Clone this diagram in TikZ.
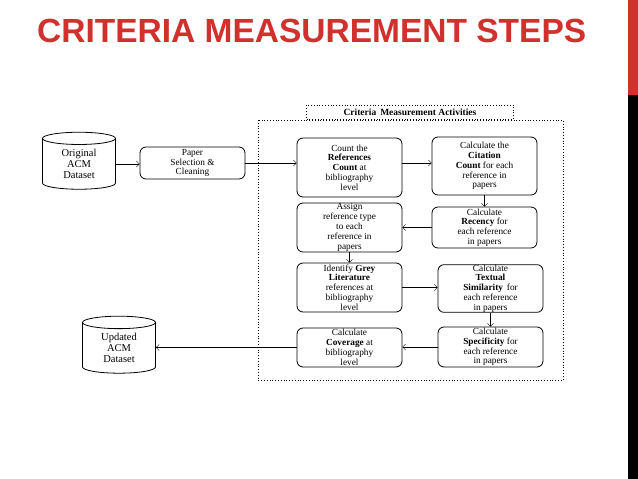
\documentclass[tikz,border=0pt]{standalone}
\usepackage{fontspec}
\setmainfont{Liberation Serif}
\newfontfamily\titlefont{Liberation Sans}
\usetikzlibrary{shapes.geometric,arrows.meta}
\definecolor{tred}{HTML}{D0312D}
\tikzset{
  x=1pt,y=-1pt,
  box/.style={draw,thick,rounded corners=6pt,align=center,font=\fontsize{9.3}{9.8}\selectfont,inner sep=0pt},
  db/.style={draw,thick,cylinder,shape border rotate=90,aspect=0.35,align=center,font=\fontsize{10.5}{11}\selectfont,inner sep=0pt},
  arr/.style={-{Straight Barb[length=3pt,width=6pt]}}
}
\newcommand{\bx}[5]{\node[box,minimum width=#3-#2,minimum height=#5-#4] (#1) at ({(#2+#3)/2},{(#4+#5)/2})}
\begin{document}
\begin{tikzpicture}
\useasboundingbox (0,0) rectangle (638,479);
\fill[tred] (628,0) rectangle (638,95);
\fill[black] (628,95) rectangle (638,479);
\node[text=tred,font=\titlefont\bfseries\fontsize{33.5}{36}\selectfont,anchor=west,inner sep=0] (title) at (37,31) {CRITERIA MEASUREMENT STEPS};
\draw[thick,dotted] (258,120) rectangle (563,380);
\node[draw,thick,dotted,fill=white,minimum width=207,minimum height=14,inner sep=0,font=\bfseries\fontsize{9.5}{10}\selectfont] (lab) at (410,112) {Criteria\, Measurement Activities};
\node[db,minimum width=73,minimum height=57] (orig) at (79,164) {Original\\ACM\\Dataset};
\node[db,minimum width=73,minimum height=57] (upd) at (119,348) {Updated\\ACM\\Dataset};
\bx{paper}{140}{245}{147}{179} {Paper\\Selection \&\\Cleaning};
\bx{count}{297}{402}{138}{197} {Count the\\\textbf{References}\\\textbf{Count} at\\bibliography\\level};
\bx{cit}{432}{537}{137}{195} {Calculate the\\\textbf{Citation}\\\textbf{Count} for each\\reference in\\papers};
\bx{assign}{297}{402}{203}{252} {Assign\\reference type\\to each\\reference in\\papers};
\bx{rec}{432}{537}{207}{248} {Calculate\\\textbf{Recency} for\\each reference\\in papers};
\bx{grey}{297}{402}{263}{312} {Identify \textbf{Grey}\\\textbf{Literature}\\references at\\bibliography\\level};
\bx{text}{438}{543}{265}{312} {Calculate\\\textbf{Textual}\\\textbf{Similarity}\, for\\each reference\\in papers};
\bx{cov}{297}{402}{328}{367} {Calculate\\\textbf{Coverage} at\\bibliography\\level};
\bx{spec}{438}{543}{327}{367} {Calculate\\\textbf{Specificity} for\\each reference\\in papers};
\draw[arr] (orig.east) -- (orig.east -| paper.west);
\draw[arr] (paper.east) -- (paper.east -| count.west);
\draw[arr] (count.east |- paper.east) -- (paper.east -| cit.west);
\draw[arr] (cit.south) -- (rec.north);
\draw[arr] (rec.west) -- (rec.west -| assign.east);
\draw[arr] (assign.south) -- (grey.north);
\draw[arr] (grey.east) -- (grey.east -| text.west);
\draw[arr] (text.south) -- (spec.north);
\draw[arr] (spec.west) -- (spec.west -| cov.east);
\draw[arr] (cov.west) -- (cov.west -| upd.east);
\end{tikzpicture}
\end{document}
